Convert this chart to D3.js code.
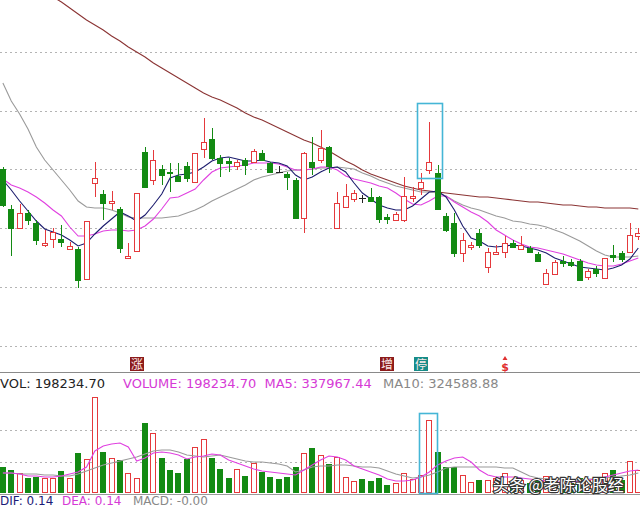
<!DOCTYPE html>
<html><head><meta charset="utf-8">
<script src="https://cdn.jsdelivr.net/npm/d3@7"></script>
<style>html,body{margin:0;padding:0;background:#fff;overflow:hidden}svg{display:block}</style>
</head><body><svg id="c" width="640" height="508"></svg>
<script>
// ---------- data ----------
const opens = [10.83,10.43,10.24,10.39,10.29,10.07,10.13,10.13,10.03,10.03,
9.73,10.69,10.58,10.49,10.43,9.94,10.01,11.00,10.72,10.83,
10.80,10.76,10.86,10.70,11.03,11.13,10.94,10.91,10.86,10.92,
10.90,10.99,10.89,10.80,10.78,10.72,10.34,10.90,10.92,11.05,
10.24,10.45,10.53,10.54,10.55,10.55,10.35,10.32,10.32,10.54,
10.64,10.82,10.79,10.36,10.29,9.99,10.05,10.19,9.85,9.98,
10.00,10.09,10.03,10.04,9.98,9.68,9.78,9.91,9.90,9.91,
9.75,9.83,9.74,9.97,9.99,10.00,10.16];
const highs = [10.85,10.47,10.48,10.42,10.32,10.22,10.24,10.27,10.10,10.05,
10.31,10.90,10.62,10.61,10.45,10.09,10.59,11.05,11.02,10.87,
10.89,10.89,10.90,10.99,11.34,11.24,10.97,10.94,10.92,10.94,
11.03,11.02,10.90,10.86,10.80,10.74,11.00,11.15,11.22,11.06,
10.60,10.68,10.62,10.57,10.64,10.56,10.38,10.40,10.75,10.65,
10.79,11.30,10.87,10.39,10.39,10.19,10.10,10.23,10.04,10.07,
10.16,10.12,10.16,10.06,10.00,9.83,9.92,9.96,9.93,9.93,
9.83,9.86,9.94,10.07,10.01,10.29,10.24];
const lows = [10.45,9.96,10.24,10.27,10.07,10.05,10.04,10.05,10.03,9.64,
9.73,10.55,10.32,10.42,9.99,9.94,10.01,10.65,10.67,10.67,
10.60,10.70,10.70,10.70,10.94,10.92,10.75,10.80,10.82,10.77,
10.90,10.92,10.79,10.79,10.62,10.34,10.19,10.77,10.89,10.79,
10.24,10.45,10.50,10.49,10.50,10.29,10.28,10.32,10.30,10.50,
10.57,10.78,10.42,10.20,9.95,9.90,10.02,10.04,9.79,9.97,
9.94,10.04,10.02,9.99,9.90,9.68,9.77,9.85,9.85,9.71,
9.72,9.75,9.74,9.90,9.90,9.99,10.12];
const closes = [10.47,10.24,10.39,10.32,10.12,10.09,10.20,10.10,10.06,9.72,
10.31,10.74,10.49,10.51,10.04,9.96,10.59,10.65,10.92,10.77,
10.79,10.71,10.74,10.99,11.10,10.94,10.89,10.89,10.90,10.87,
11.01,10.92,10.80,10.80,10.75,10.34,10.99,10.85,11.04,10.86,
10.49,10.56,10.59,10.54,10.51,10.33,10.33,10.38,10.56,10.56,
10.70,10.90,10.43,10.22,9.99,10.12,10.07,10.07,10.00,10.00,
10.09,10.05,10.07,10.00,9.91,9.79,9.90,9.89,9.87,9.72,
9.81,9.79,9.94,9.95,9.93,10.17,10.19];
const ma5 = [10.72,10.62,10.51,10.41,10.31,10.23,10.20,10.17,10.12,10.06,
10.09,10.18,10.26,10.33,10.40,10.36,10.31,10.37,10.47,10.58,
10.74,10.77,10.78,10.80,10.85,10.91,10.94,10.95,10.93,10.91,
10.91,10.92,10.90,10.89,10.86,10.77,10.72,10.75,10.80,10.84,
10.85,10.80,10.69,10.59,10.53,10.47,10.44,10.42,10.42,10.46,
10.53,10.60,10.61,10.55,10.42,10.26,10.14,10.11,10.06,10.05,
10.06,10.07,10.06,10.04,10.02,9.99,9.94,9.91,9.88,9.85,
9.84,9.83,9.82,9.84,9.87,9.93,10.04];
const ma10 = [10.73,10.67,10.64,10.60,10.55,10.49,10.42,10.36,10.25,10.16,
10.16,10.18,10.21,10.22,10.22,10.21,10.22,10.26,10.33,10.43,
10.54,10.55,10.59,10.63,10.72,10.80,10.84,10.85,10.86,10.87,
10.89,10.89,10.89,10.88,10.85,10.82,10.82,10.83,10.85,10.85,
10.82,10.76,10.73,10.71,10.69,10.66,10.64,10.59,10.53,10.48,
10.47,10.51,10.56,10.56,10.50,10.45,10.40,10.36,10.30,10.22,
10.17,10.12,10.08,10.05,10.04,10.02,10.00,9.98,9.95,9.92,
9.89,9.87,9.86,9.86,9.88,9.91,9.94];
const ma30 = [11.69,11.51,11.38,11.23,11.05,10.92,10.82,10.72,10.62,10.51,
10.45,10.44,10.44,10.42,10.39,10.35,10.34,10.34,10.34,10.34,
10.35,10.36,10.39,10.42,10.46,10.51,10.55,10.59,10.63,10.67,
10.72,10.75,10.77,10.79,10.81,10.82,10.82,10.83,10.84,10.84,
10.85,10.84,10.83,10.79,10.76,10.72,10.69,10.66,10.64,10.62,
10.60,10.60,10.59,10.56,10.51,10.47,10.44,10.42,10.39,10.36,
10.34,10.31,10.30,10.28,10.27,10.25,10.22,10.19,10.15,10.11,
10.06,10.01,9.97,9.95,9.95,9.95,9.96];
const ma60 = [12.90,12.83,12.77,12.71,12.66,12.60,12.55,12.50,12.44,12.38,
12.32,12.27,12.22,12.16,12.11,12.05,12.00,11.95,11.89,11.84,
11.79,11.74,11.69,11.64,11.59,11.55,11.52,11.48,11.44,11.39,
11.35,11.32,11.28,11.24,11.20,11.16,11.12,11.09,11.05,11.01,
10.96,10.91,10.87,10.82,10.78,10.75,10.72,10.69,10.66,10.64,
10.62,10.61,10.60,10.59,10.58,10.57,10.56,10.55,10.55,10.54,
10.53,10.52,10.51,10.50,10.50,10.49,10.48,10.47,10.47,10.46,
10.45,10.45,10.44,10.44,10.44,10.44,10.43];
// volume in 10k units
const volumes = [26,23,20,15,16,15,15,22,15,40,
34,96,41,35,33,20,15,70,60,35,
23,20,34,46,54,35,24,15,24,17,
30,21,16,14,16,26,40,45,38,29,
36,16,12,14,12,15,8,10,20,14,
18,73,41,26,26,18,11,13,13,15,
20,11,13,10,12,17,14,9,10,15,
13,11,20,23,13,32,23];
const volMa5 = [20,20,19,17,17,16,16,17,19,21,
26,42,47,49,50,46,32,35,40,41,
40,38,34,36,37,39,38,33,30,27,
24,22,21,20,19,18,23,28,33,37,
36,33,27,24,21,18,14,12,12,13,
16,21,28,32,35,36,31,23,18,16,
16,16,15,14,13,12,11,11,11,12,
13,14,16,18,20,22,23];
const volMa10 = [20,20,19,19,19,18,18,17,17,19,
22,25,28,30,32,34,36,39,42,43,
43,41,38,37,36,37,38,36,34,32,
31,31,30,29,27,21,23,26,27,27,
28,28,27,26,26,25,22,19,17,15,
16,18,21,25,26,26,26,26,26,26,
25,25,21,17,15,14,14,13,13,13,
14,14,15,16,17,18,20];
const priceGrid = [12.00, 11.413, 10.826, 10.239, 9.652, 9.065];
const volGrid = [31, 63];
const eventIdx = [16, 46, 50, 60];
const eventLabels = ['涨', '增', '停', '$'];
const eventBg = ['#8c1b1b', '#8c1b1b', '#168c88', null];
const highlightIdx = 51;
const volLegend = [
  {t: 'VOL: 198234.70', c: '#222', x: 0},
  {t: 'VOLUME: 198234.70  MA5: 337967.44', c: '#d63ad6', x: 123},
  {t: 'MA10: 324588.88', c: '#888', x: 383}
];
const macdLegend = [
  {t: 'DIF: 0.14', c: '#1c1c78', x: 0},
  {t: 'DEA: 0.14', c: '#d63ad6', x: 62},
  {t: 'MACD: -0.00', c: '#888', x: 133}
];
const watermark = '头条 @老陈论股经';

// ---------- drawing ----------
const N = opens.length;
const svg = d3.select('#c');
const x = d3.scaleLinear().domain([0, 76]).range([2.9, 638.3]);
const y = d3.scaleLinear().domain([8.80, 12.52]).range([372, 0]);
const yv = d3.scaleLinear().domain([0, 100]).range([493, 393]);
const RED = '#e5393c', GREEN = '#138a13', DOJI = '#222';

svg.append('rect').attr('width', 640).attr('height', 508).attr('fill', '#fff');
const defs = svg.append('defs');
defs.append('clipPath').attr('id', 'mainClip').append('rect').attr('x', 0).attr('y', 0).attr('width', 640).attr('height', 372);
defs.append('clipPath').attr('id', 'volClip').append('rect').attr('x', 0).attr('y', 390).attr('width', 640).attr('height', 104);

// gridlines
svg.append('g').selectAll('line').data(priceGrid).join('line')
  .attr('x1', 0).attr('x2', 640)
  .attr('y1', d => Math.round(y(d)) + 0.5).attr('y2', d => Math.round(y(d)) + 0.5)
  .attr('stroke', '#b4b4b4').attr('stroke-dasharray', '2,3');
svg.append('g').selectAll('line').data(volGrid).join('line')
  .attr('x1', 0).attr('x2', 640)
  .attr('y1', d => Math.round(yv(d)) + 0.5).attr('y2', d => Math.round(yv(d)) + 0.5)
  .attr('stroke', '#b4b4b4').attr('stroke-dasharray', '2,3');

// separators
svg.append('line').attr('x1', 0).attr('x2', 640).attr('y1', 372.5).attr('y2', 372.5).attr('stroke', '#8a8a8a');
svg.append('line').attr('x1', 0).attr('x2', 640).attr('y1', 494.5).attr('y2', 494.5).attr('stroke', '#9a9a9a');

const main = svg.append('g').attr('clip-path', 'url(#mainClip)');
const candles = d3.range(N).map(i => ({i, o: opens[i], h: highs[i], l: lows[i], c: closes[i]}));
const colorOf = d => d.c > d.o ? RED : (d.c < d.o ? GREEN : DOJI);

// MA lines (under candles)
const lineFn = d3.line().x((d, i) => x(i)).y(d => y(d));
[[ma60, '#8b3434'], [ma30, '#9a9a9a'], [ma10, '#e040e0'], [ma5, '#1c1c6e']].forEach(([arr, col]) => {
  main.append('path').attr('d', lineFn(arr)).attr('fill', 'none').attr('stroke', col).attr('stroke-width', 1.1);
});

const cg = main.append('g');
candles.forEach(d => {
  const cx = Math.round(x(d.i)) + 0.5;
  const col = colorOf(d);
  const top = Math.round(y(Math.max(d.o, d.c)));
  const bot = Math.round(y(Math.min(d.o, d.c)));
  const hy = Math.round(y(d.h)), ly = Math.round(y(d.l));
  if (d.c > d.o) {
    if (hy < top) cg.append('line').attr('x1', cx).attr('x2', cx).attr('y1', hy).attr('y2', top).attr('stroke', col);
    if (ly > bot) cg.append('line').attr('x1', cx).attr('x2', cx).attr('y1', bot).attr('y2', ly).attr('stroke', col);
    cg.append('rect').attr('x', cx - 3).attr('y', top + 0.5).attr('width', 5).attr('height', Math.max(1, bot - top))
      .attr('fill', '#fff').attr('stroke', col);
  } else if (d.c < d.o) {
    cg.append('line').attr('x1', cx).attr('x2', cx).attr('y1', hy).attr('y2', ly).attr('stroke', col);
    cg.append('rect').attr('x', cx - 3).attr('y', top + 0.5).attr('width', 5).attr('height', Math.max(1, bot - top))
      .attr('fill', col).attr('stroke', col);
  } else {
    cg.append('line').attr('x1', cx).attr('x2', cx).attr('y1', hy).attr('y2', ly).attr('stroke', col);
    cg.append('line').attr('x1', cx - 3.5).attr('x2', cx + 3.5).attr('y1', top + 0.5).attr('y2', top + 0.5).attr('stroke', col);
  }
});

// highlight box on candle chart
{
  const hx = x(highlightIdx);
  const t = Math.round(y(highs[highlightIdx])) - 19, b = Math.round(y(lows[highlightIdx])) + 4;
  svg.append('rect').attr('x', Math.round(hx) - 11.5).attr('y', t + 0.5).attr('width', 25).attr('height', b - t)
    .attr('fill', 'none').attr('stroke', '#45b6d6').attr('stroke-width', 1.6);
}

// event icons
eventIdx.forEach((ei, k) => {
  const cx = Math.round(x(ei));
  if (eventBg[k]) {
    svg.append('rect').attr('x', cx - 7).attr('y', 357).attr('width', 14).attr('height', 14).attr('fill', eventBg[k]);
    svg.append('text').attr('x', cx).attr('y', 368.5).attr('text-anchor', 'middle')
      .attr('font-family', 'Noto Sans CJK SC').attr('font-size', 12).attr('fill', '#fbe9e9').text(eventLabels[k]);
  } else {
    svg.append('path').attr('d', `M${cx - 2.5},360 L${cx},356 L${cx + 2.5},360 Z`).attr('fill', '#e03030');
    svg.append('text').attr('x', cx).attr('y', 371).attr('text-anchor', 'middle')
      .attr('font-family', 'DejaVu Sans').attr('font-weight', 'bold').attr('font-size', 11).attr('fill', '#e03030').text(eventLabels[k]);
  }
});

// legends
const txt = (arr, yy, fs) => arr.forEach(o => svg.append('text').attr('x', o.x).attr('y', yy)
  .attr('font-family', 'DejaVu Sans').attr('font-size', fs).attr('fill', o.c).attr('xml:space', 'preserve').text(o.t));
txt(volLegend, 388, 13);
txt(macdLegend, 504.5, 12);

// volume bars
const vg = svg.append('g').attr('clip-path', 'url(#volClip)');
candles.forEach(d => {
  const cx = Math.round(x(d.i)) + 0.5;
  const up = d.c > d.o;
  const top = Math.round(yv(volumes[d.i]));
  const base = Math.round(yv(0));
  vg.append('rect').attr('x', cx - 3).attr('y', top + 0.5).attr('width', 5).attr('height', base - top - 1)
    .attr('fill', up ? '#fff' : GREEN).attr('stroke', up ? RED : GREEN);
});
const vline = d3.line().x((d, i) => x(i)).y(d => yv(d));
vg.append('path').attr('d', vline(volMa10)).attr('fill', 'none').attr('stroke', '#9a9a9a').attr('stroke-width', 1.1);
vg.append('path').attr('d', vline(volMa5)).attr('fill', 'none').attr('stroke', '#e040e0').attr('stroke-width', 1.1);

// highlight box on volume
{
  const hx = Math.round(x(highlightIdx));
  const t = Math.round(yv(volumes[highlightIdx])) - 7;
  svg.append('rect').attr('x', hx - 9.5).attr('y', t + 0.5).attr('width', 18).attr('height', Math.round(yv(0)) - t)
    .attr('fill', 'none').attr('stroke', '#45b6d6').attr('stroke-width', 1.6);
}

// watermark
svg.append('text').attr('x', 493).attr('y', 491).attr('font-family', 'Noto Sans CJK SC').attr('font-size', 16)
  .attr('fill', '#fff').attr('stroke', '#333').attr('stroke-width', 2.2).attr('paint-order', 'stroke')
  .attr('xml:space', 'preserve').text(watermark);
</script>
</body></html>
